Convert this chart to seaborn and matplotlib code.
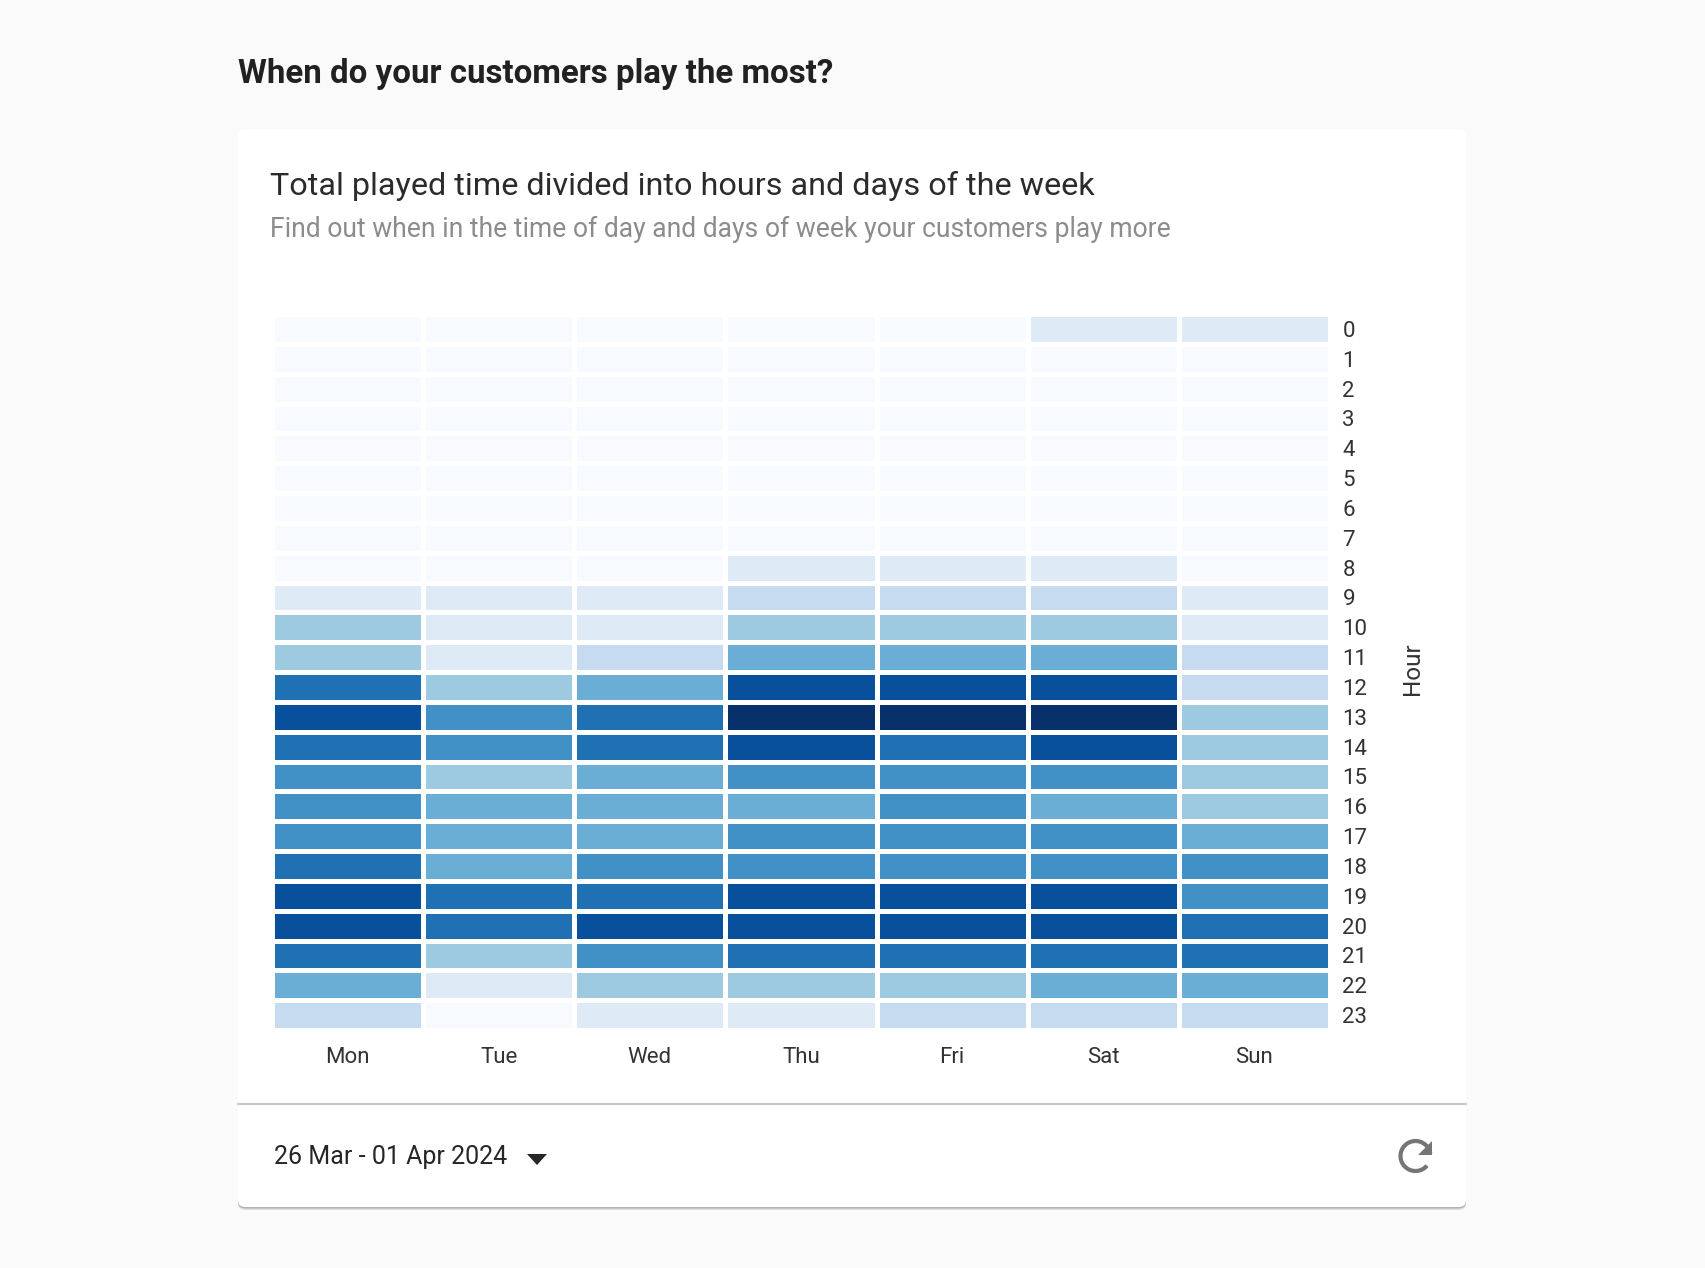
import numpy as np
import pandas as pd
import seaborn as sns
import matplotlib.pyplot as plt
from matplotlib.patches import FancyBboxPatch, Arc, Polygon

# colour level of each cell, hours 0 to 23
hours = list(range(24))
days = ['Mon', 'Tue', 'Wed', 'Thu', 'Fri', 'Sat', 'Sun']
mon = [0, 0, 0, 0, 0, 0, 0, 0, 0, 1, 3, 3, 6, 7, 6, 5, 5, 5, 6, 7, 7, 6, 4, 2]
tue = [0, 0, 0, 0, 0, 0, 0, 0, 0, 1, 1, 1, 3, 5, 5, 3, 4, 4, 4, 6, 6, 3, 1, 0]
wed = [0, 0, 0, 0, 0, 0, 0, 0, 0, 1, 1, 2, 4, 6, 6, 4, 4, 4, 5, 6, 7, 5, 3, 1]
thu = [0, 0, 0, 0, 0, 0, 0, 0, 1, 2, 3, 4, 7, 8, 7, 5, 4, 5, 5, 7, 7, 6, 3, 1]
fri = [0, 0, 0, 0, 0, 0, 0, 0, 1, 2, 3, 4, 7, 8, 6, 5, 5, 5, 5, 7, 7, 6, 3, 2]
sat = [1, 0, 0, 0, 0, 0, 0, 0, 1, 2, 3, 4, 7, 8, 7, 5, 4, 5, 5, 7, 7, 6, 4, 2]
sun = [1, 0, 0, 0, 0, 0, 0, 0, 0, 1, 1, 2, 2, 3, 3, 3, 3, 4, 5, 5, 6, 6, 4, 2]

W, H = 1706, 1268
data = pd.DataFrame(dict(zip(days, [mon, tue, wed, thu, fri, sat, sun])), index=hours)

sns.set_theme(style='white')
plt.rcParams['font.family'] = ['Roboto', 'DejaVu Sans']

fig = plt.figure(figsize=(W / 100, H / 100), dpi=100, facecolor='#fafafa')

# page layer in pixel coordinates
bg = fig.add_axes([0, 0, 1, 1], zorder=0)
bg.set_xlim(0, W)
bg.set_ylim(H, 0)
bg.axis('off')
for off, col in [(3, '#dedede'), (1.5, '#b0b0b0')]:
    bg.add_patch(FancyBboxPatch((238, 129 + off), 1228, 1078, boxstyle='round,pad=0,rounding_size=7',
                                fc=col, ec='none'))
bg.add_patch(FancyBboxPatch((238, 129), 1228, 1078, boxstyle='round,pad=0,rounding_size=7',
                            fc='white', ec='none'))
bg.plot([238, 1466], [1103.5, 1103.5], color='#c8c8c8', lw=1.5)

bg.text(238, 74, 'When do your customers play the most?', fontsize=23.75, fontweight='bold',
        color='#212121', va='center')
bg.text(270, 186, 'Total played time divided into hours and days of the week', fontsize=23.35,
        color='#2b2b2b', va='center')
bg.text(270, 229, 'Find out when in the time of day and days of week your customers play more',
        fontsize=19.1, color='#8c8c8c', va='center')
bg.text(274, 1157, '26 Mar - 01 Apr 2024', fontsize=18, color='#262626', va='center')

# dropdown arrow and refresh icon
bg.add_patch(Polygon([[527, 1154], [547, 1154], [537, 1165]], fc='#262626', ec='none'))
bg.add_patch(Arc((1415.5, 1156), 30, 30, theta1=-320, theta2=-10, color='#757575', lw=3))
bg.add_patch(Polygon([[1432, 1141], [1432, 1155], [1418, 1155]], fc='#757575', ec='none'))

# heatmap, outer edges sit half under the white cell border
left, right, top, bottom = 272, 1330, 314, 1030
ax = fig.add_axes([left / W, 1 - bottom / H, (right - left) / W, (bottom - top) / H], zorder=1)
ax.patch.set_alpha(0)
sns.heatmap(data, ax=ax, cmap='Blues', vmin=0, vmax=8, cbar=False, linewidths=2.5, linecolor='white')

ax.yaxis.tick_right()
ax.yaxis.set_label_position('right')
ax.set_yticks(np.arange(24) + 0.5, hours, rotation=0)
ax.set_xticks(np.arange(7) + 0.5, days, rotation=0)
ax.tick_params(axis='both', length=0, labelsize=16, labelcolor='#333333')
ax.tick_params(axis='x', pad=12.5)
ax.tick_params(axis='y', pad=9)
ax.set_ylabel('Hour', fontsize=17.5, color='#333333', labelpad=24, y=0.504)
ax.set_xlabel('')

fig.savefig('out.png', dpi=100, facecolor=fig.get_facecolor())
